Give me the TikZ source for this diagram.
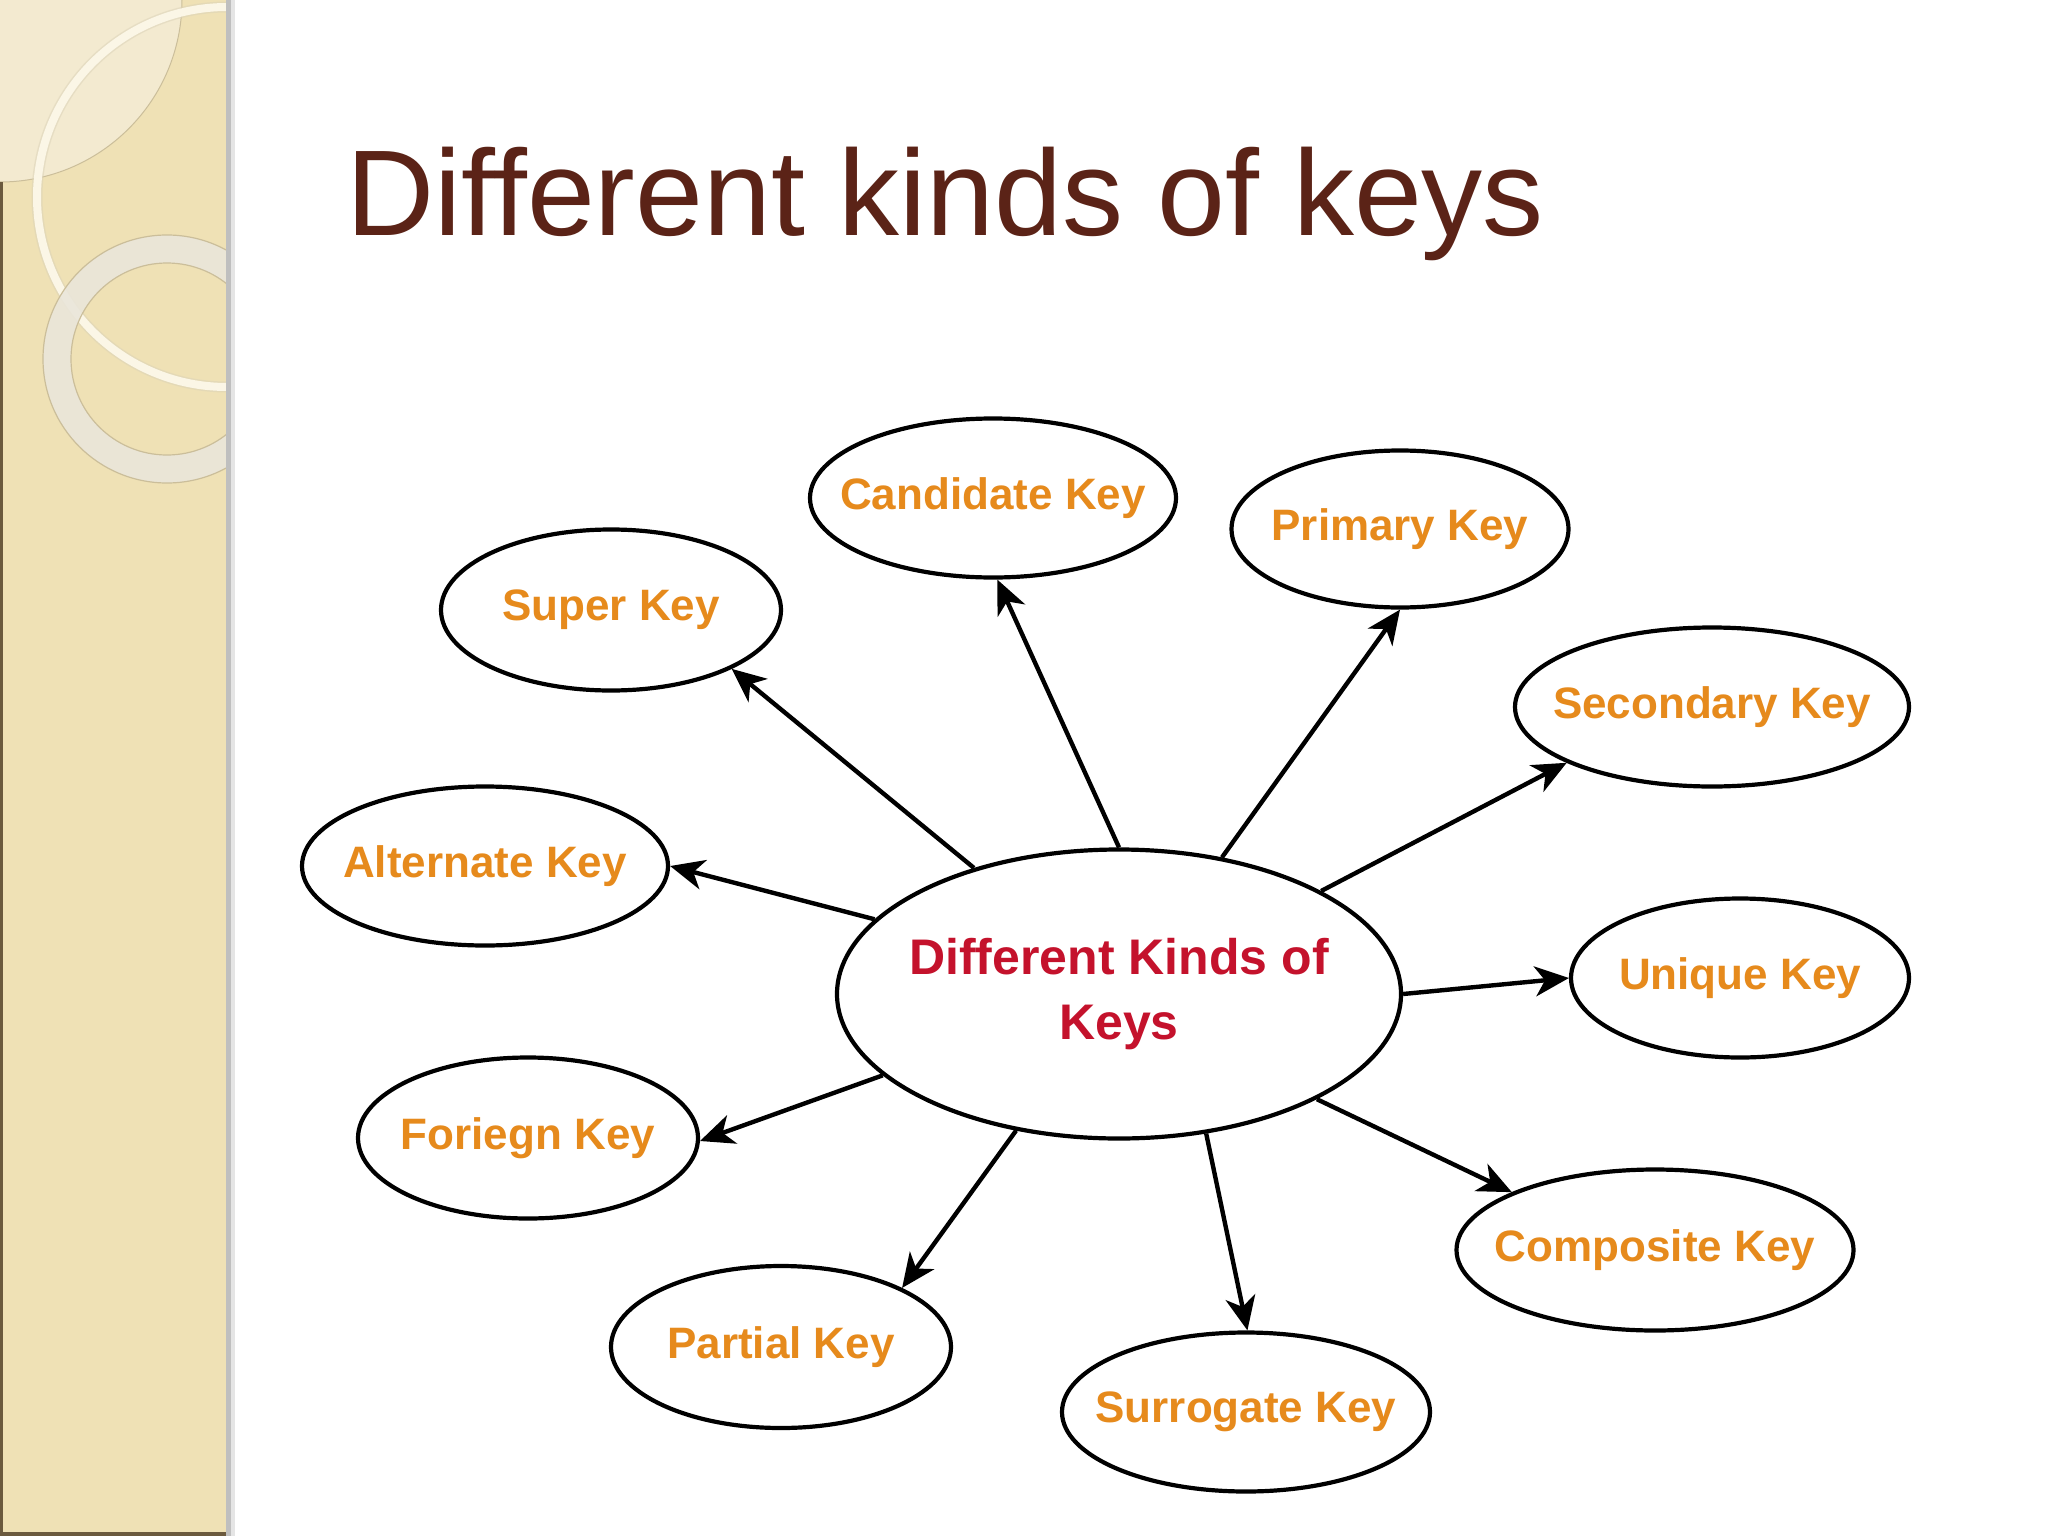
\documentclass[tikz,border=0pt]{standalone}
\usepackage{fontspec}
\setmainfont{Liberation Sans}
\usetikzlibrary{shapes.geometric,arrows.meta}
\definecolor{sidebg}{HTML}{EFE1B5}
\definecolor{sidelight}{HTML}{F3EAD0}
\definecolor{ringcol}{HTML}{EAE6DA}
\definecolor{ringedge}{HTML}{CBBE9A}
\definecolor{bigring}{HTML}{FBF6E6}
\definecolor{borderbrown}{HTML}{6B5A3E}
\definecolor{titlebrown}{HTML}{5B2317}
\definecolor{keyorange}{HTML}{E68A1C}
\definecolor{centerred}{HTML}{C4122C}
\newcommand{\klabel}[1]{\makebox[0pt]{#1}}
\begin{document}
\begin{tikzpicture}[x=1pt,y=-1pt,
  keynode/.style={ellipse, draw=black, line width=4.2pt, fill=white, text=keyorange,
    font=\fontsize{44}{50}\selectfont\bfseries, inner sep=0pt},
  centernode/.style={ellipse, draw=black, line width=4.2pt, fill=white, text=centerred,
    font=\fontsize{50}{65}\selectfont\bfseries, inner sep=0pt},
  link/.style={line width=4.4pt, draw=black, -{Stealth[length=34pt,width=30pt,inset=10pt]}},
  titlestyle/.style={font=\fontsize{122}{130}\selectfont, inner sep=0pt, anchor=base west}]
\useasboundingbox (0,0) rectangle (2048,1536);
\fill[white] (0,0) rectangle (2048,1536);
% sidebar
\fill[sidebg] (0,0) rectangle (226,1536);
\begin{scope}
  \clip (0,0) rectangle (226,1536);
  \fill[sidelight] (0,0) -- (182,0) arc[start angle=0, end angle=90, radius=182] -- cycle;
  \draw[ringedge, line width=1pt] (182,0) arc[start angle=0, end angle=90, radius=182];
  \draw[ringedge!70, line width=11pt, opacity=0.5] (227,197) circle[radius=190];
  \draw[bigring, line width=8pt] (227,197) circle[radius=190];
  \draw[ringcol, line width=28pt, opacity=0.9] (167,359) circle[radius=110];
  \draw[ringedge, line width=1.2pt] (167,359) circle[radius=124];
  \draw[ringedge, line width=1.2pt] (167,359) circle[radius=96];
\end{scope}
\fill[black!25] (226,0) rectangle (231,1536);
\fill[black!10] (231,0) rectangle (235,1536);
\fill[borderbrown] (0,182) rectangle (2.5,1536);
\fill[borderbrown] (0,1532) rectangle (226,1536);
% title
\node[titlestyle, text=titlebrown] (title) at (346,235) {Different kinds of keys};
% nodes
\node[centernode, minimum width=564pt, minimum height=289pt] (c) at (1119,994)
  {\makebox[0pt]{\raisebox{-8pt}{\begin{tabular}{@{}c@{}}Different Kinds of\\Keys\end{tabular}}}};
\node[keynode, minimum width=366pt, minimum height=159pt] (cand) at (993,498) {\klabel{Candidate Key}};
\node[keynode, minimum width=337pt, minimum height=157pt] (prim) at (1400,529) {\klabel{Primary Key}};
\node[keynode, minimum width=340pt, minimum height=161pt] (super) at (611,610) {\klabel{Super Key}};
\node[keynode, minimum width=394pt, minimum height=159pt] (sec) at (1712,707) {\klabel{Secondary Key}};
\node[keynode, minimum width=366pt, minimum height=159pt] (alt) at (485,866) {\klabel{Alternate Key}};
\node[keynode, minimum width=338pt, minimum height=159pt] (uniq) at (1740,978) {\klabel{Unique Key}};
\node[keynode, minimum width=340pt, minimum height=161pt] (for) at (528,1138) {\klabel{Foriegn Key}};
\node[keynode, minimum width=397pt, minimum height=161pt] (comp) at (1655,1250) {\klabel{Composite Key}};
\node[keynode, minimum width=340pt, minimum height=162pt] (part) at (781,1347) {\klabel{Partial Key}};
\node[keynode, minimum width=368pt, minimum height=159pt] (surr) at (1246,1412) {\klabel{Surrogate Key}};
% connectors
\draw[link] (c.90.5) -- (cand.273.6);
\draw[link] (c.53.6) -- (prim.270);
\draw[link] (c.139.6) -- (super.334.4);
\draw[link] (c.27.1) -- (sec.201.3);
\draw[link] (c.163.7) -- (alt.0.4);
\draw[link] (c.0.3) -- (uniq.180.4);
\draw[link] (c.199.4) -- (for.359);
\draw[link] (c.332.6) -- (comp.158.1);
\draw[link] (c.233.6) -- (part.26.1);
\draw[link] (c.302.2) -- (surr.89.1);
\end{tikzpicture}
\end{document}
